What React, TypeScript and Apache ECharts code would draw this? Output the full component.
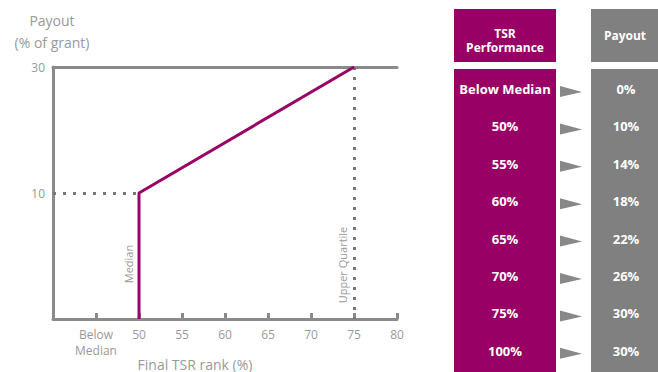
import React, { useEffect, useRef } from "react";
import * as echarts from "echarts";

const xTicks = [45, 50, 55, 60, 65, 70, 75, 80];
const xTickLabels = ["Below\nMedian", "50", "55", "60", "65", "70", "75", "80"];
const yTickLabels = [10, 30];
const payoutCurveX = [50, 50, 75];
const payoutCurveY = [-10, 10, 30];
const tsrPerformance = ["Below Median", "50%", "55%", "60%", "65%", "70%", "75%", "100%"];
const payoutValues = ["0%", "10%", "14%", "18%", "22%", "26%", "30%", "30%"];

const MAGENTA = "#990066";
const GRAY_BOX = "#808080";
const AXIS = "#8a8a8a";
const LABEL = "#999999";
const FONT = "'Open Sans', 'Noto Sans', sans-serif";

export default function App() {
  const ref = useRef<HTMLDivElement>(null);
  useEffect(() => {
    if (!ref.current) return;
    const chart = echarts.init(ref.current, undefined, { renderer: "svg" });

    const rowTop = 70;
    const rowStep = 37.4;
    const tableGraphics: any[] = [
      { type: "rect", shape: { x: 454, y: 9, width: 102, height: 53 }, style: { fill: MAGENTA } },
      { type: "rect", shape: { x: 591, y: 9, width: 70, height: 53 }, style: { fill: GRAY_BOX } },
      { type: "rect", shape: { x: 454, y: 69, width: 102, height: 310 }, style: { fill: MAGENTA } },
      { type: "rect", shape: { x: 591, y: 69, width: 70, height: 310 }, style: { fill: GRAY_BOX } },
      {
        type: "text", x: 505, y: 33,
        style: { text: "TSR", fill: "#fff", font: `bold 12px ${FONT}`, textAlign: "center", textVerticalAlign: "middle" },
      },
      {
        type: "text", x: 505, y: 47,
        style: { text: "Performance", fill: "#fff", font: `bold 12px ${FONT}`, textAlign: "center", textVerticalAlign: "middle" },
      },
      {
        type: "text", x: 625, y: 35,
        style: { text: "Payout", fill: "#fff", font: `bold 12px ${FONT}`, textAlign: "center", textVerticalAlign: "middle" },
      },
    ];
    tsrPerformance.forEach((t, i) => {
      const cy = rowTop + 19 + i * rowStep;
      tableGraphics.push({
        type: "text", x: 505, y: cy,
        style: { text: t, fill: "#fff", font: `bold 13px ${FONT}`, textAlign: "center", textVerticalAlign: "middle" },
      });
      tableGraphics.push({
        type: "text", x: 626, y: cy,
        style: { text: payoutValues[i], fill: "#fff", font: `bold 13px ${FONT}`, textAlign: "center", textVerticalAlign: "middle" },
      });
      tableGraphics.push({
        type: "polygon",
        shape: { points: [[560, cy - 3], [582, cy + 3], [560, cy + 8]] },
        style: { fill: "#888" },
      });
    });

    chart.setOption({
      animation: false,
      textStyle: { fontFamily: FONT },
      grid: { left: 53, right: 261, top: 67, bottom: 53, outerBoundsMode: "none", containLabel: false },
      xAxis: [
        {
          type: "value",
          min: 40,
          max: 80,
          interval: 5,
          axisLine: { show: true, onZero: false, lineStyle: { color: AXIS, width: 3 } },
          axisTick: {
            show: true,
            inside: true,
            length: 6,
            lineStyle: { color: AXIS, width: 3 },
          },
          axisLabel: {
            color: LABEL,
            fontSize: 12,
            lineHeight: 16,
            verticalAlign: "top",
            margin: 7,
            formatter: (v: number) => {
              const i = xTicks.indexOf(v);
              return i >= 0 ? xTickLabels[i] : "";
            },
          },
          splitLine: { show: false },
        },
        {
          type: "value",
          position: "top",
          min: 40,
          max: 80,
          axisLine: { show: true, onZero: false, lineStyle: { color: AXIS, width: 3 } },
          axisTick: { show: false },
          axisLabel: { show: false },
          splitLine: { show: false },
        },
      ],
      yAxis: {
        type: "value",
        min: -10,
        max: 30,
        interval: 10,
        axisLine: { show: true, onZero: false, lineStyle: { color: AXIS, width: 3 } },
        axisTick: { show: false },
        axisLabel: {
          color: LABEL,
          fontSize: 12,
          margin: 8,
          formatter: (v: number) => (yTickLabels.indexOf(v) >= 0 ? String(v) : ""),
        },
        splitLine: { show: false },
      },
      series: [
        {
          type: "line",
          data: payoutCurveX.map((x, i) => [x, payoutCurveY[i]]),
          symbol: "none",
          lineStyle: { color: MAGENTA, width: 3 },
          z: 5,
          markLine: {
            silent: true,
            symbol: "none",
            label: { show: false },
            lineStyle: { color: "#777", width: 3, type: [3, 7] },
            data: [
              [{ coord: [40, payoutCurveY[1]] }, { coord: [payoutCurveX[1], payoutCurveY[1]] }],
              [{ coord: [payoutCurveX[2], payoutCurveY[2]] }, { coord: [payoutCurveX[2], -10] }],
            ],
          },
        },
      ],
      graphic: [
        {
          type: "text", x: 52, y: 20,
          style: { text: "Payout", fill: LABEL, font: `14px ${FONT}`, textAlign: "center", textVerticalAlign: "middle" },
        },
        {
          type: "text", x: 52, y: 42,
          style: { text: "(% of grant)", fill: LABEL, font: `14px ${FONT}`, textAlign: "center", textVerticalAlign: "middle" },
        },
        {
          type: "text", x: 195, y: 364,
          style: { text: "Final TSR rank (%)", fill: LABEL, font: `14px ${FONT}`, textAlign: "center", textVerticalAlign: "middle" },
        },
        {
          type: "text", x: 128, y: 264, rotation: Math.PI / 2,
          style: { text: "Median", fill: LABEL, font: `11px ${FONT}`, textAlign: "center", textVerticalAlign: "middle" },
        },
        {
          type: "text", x: 342, y: 265, rotation: Math.PI / 2,
          style: { text: "Upper Quartile", fill: LABEL, font: `11px ${FONT}`, textAlign: "center", textVerticalAlign: "middle" },
        },
        ...tableGraphics,
      ],
    });
    return () => chart.dispose();
  }, []);
  return <div ref={ref} style={{ width: 658, height: 372, position: "absolute", left: 0, top: 0 }} />;
}
